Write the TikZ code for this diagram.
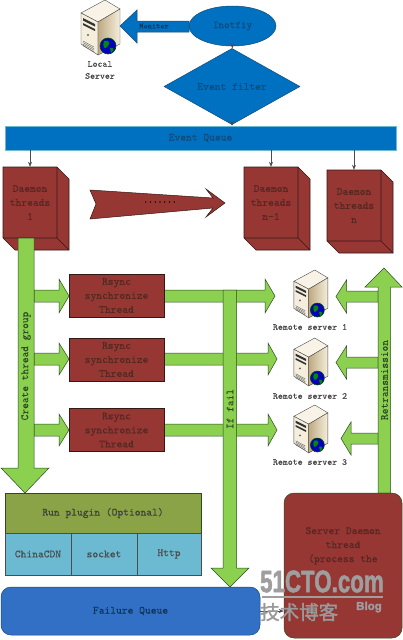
\documentclass[tikz,border=0pt]{standalone}
\usepackage{fontspec}
\setmonofont[FakeBold=0.25,AutoFakeBold=0.25]{Latin Modern Mono}
\newfontfamily\cjkf[AutoFakeBold=1.5]{Noto Sans CJK SC}
\newfontfamily\headf[FakeBold=2]{Liberation Sans}
\usetikzlibrary{shapes.geometric,arrows.meta}
\definecolor{qblue}{RGB}{0,112,192}
\definecolor{qtext}{RGB}{20,75,120}
\definecolor{brick}{RGB}{150,55,52}
\definecolor{bricktext}{RGB}{85,40,35}
\definecolor{lime}{RGB}{140,208,80}
\definecolor{limeedge}{RGB}{45,75,35}
\definecolor{olive}{RGB}{138,163,70}
\definecolor{cyanb}{RGB}{108,186,210}
\definecolor{failblue}{RGB}{50,112,198}
\definecolor{cream}{RGB}{245,238,220}
\definecolor{tan}{RGB}{190,170,130}
\tikzset{
  x=1pt,y=-1pt,
  every node/.style={font=\ttfamily,inner sep=0pt,align=center},
  blueshape/.style={fill=qblue,draw=qtext,line width=.5pt,text=qtext},
  brickbox/.style={fill=brick,draw=bricktext!60!black,line width=.6pt,text=bricktext,font=\ttfamily\fontsize{11}{14}\selectfont},
  limearrow/.style={fill=lime,draw=limeedge,line width=.5pt,line join=miter},
  thin link/.style={draw=black!70,line width=.6pt,-{Stealth[length=5pt,width=4pt]}},
  caption/.style={text=black!70,font=\ttfamily\fontsize{9.4}{12}\selectfont},
  limetext/.style={text=limeedge,rotate=90,font=\ttfamily\fontsize{11.1}{12}\selectfont},
  bodytext/.style={font=\ttfamily\fontsize{11}{14}\selectfont},
}
\newcommand{\servericon}[3]{%
  \begin{scope}[shift={(#1,#2)},scale=#3]
    \fill[draw=black!70,line width=.4pt,fill=cream!70!white] (1,13) -- (25,0) -- (40,9) -- (18,22) -- cycle;
    \fill[draw=black!70,line width=.4pt,fill=cream] (1,13) -- (18,22) -- (18,55) -- (1,44) -- cycle;
    \shade[left color=tan,right color=cream] (18,22) -- (40,9) -- (40,44) -- (18,55) -- cycle;
    \draw[black!70,line width=.4pt] (18,22) -- (40,9) -- (40,44) -- (18,55) -- cycle;
    \fill[black!80] (3,18) -- (15,24) -- (15,26.5) -- (3,20.5) -- cycle;
    \fill[black!80] (3,23) -- (15,29) -- (15,31) -- (3,25) -- cycle;
    \fill[black!60] (8,35) circle (1.2);
    \foreach \k in {0,1.6,3.2,4.8}
      \draw[black!60,line width=.4pt] (3,41+\k) -- (14,47+\k);
    \fill[blue!75!black,draw=black!70!green,line width=.6pt] (28,46) circle (8);
    \fill[green!55!black] (24,41) .. controls (29,39) and (31,44) .. (27,47) .. controls (25,50) and (22,47) .. (24,41);
    \fill[green!55!black] (30,48) .. controls (34,47) and (35,50) .. (31,53) -- cycle;
  \end{scope}}
\newcommand{\daemonbox}[4]{%
  \fill[brick,draw=bricktext!60!black,line width=.6pt] (#2,#3) -- (#2+54,#3) -- (#2+66,#3+12) -- (#2+66,#3+83) -- (#2+12,#3+83) -- (#2,#3+71) -- cycle;
  \draw[bricktext!60!black,line width=.6pt] (#2+54,#3) -- (#2+54,#3+71) -- (#2+66,#3+83) (#2+54,#3+71) -- (#2,#3+71);
  \node[text=bricktext,bodytext,minimum width=54pt,minimum height=71pt] (#1) at (#2+27,#3+35.5) {#4};
}
\newcommand{\blockarrow}[6]{%
  \fill[limearrow] (#1,#4) -- (#2,#4) -- (#2,#4-#6) -- (#3,{(#4+#5)/2}) -- (#2,#5+#6) -- (#2,#5) -- (#1,#5) -- cycle;}
\begin{document}
\begin{tikzpicture}
\useasboundingbox (0,0) rectangle (403,640);
\fill[white] (0,0) rectangle (403,640);

\servericon{80}{0}{1}
\node[caption] (local) at (100,70) {Local\\Server};
\node[ellipse,blueshape,minimum width=87pt,minimum height=40pt,font=\ttfamily\fontsize{10.7}{12}\selectfont] (ino) at (232.5,26) {Inotfiy};
\node[diamond,blueshape,minimum width=136pt,minimum height=44pt,font=\ttfamily\fontsize{11}{12}\selectfont] (filter) at (232,86.5) {Event filter};
\node[rectangle,draw=cyanb,line width=.5pt,fill=qblue,text=qtext,minimum width=391pt,minimum height=24pt,font=\ttfamily\fontsize{11}{12}\selectfont] (queue) at (200.5,138) {Event Queue};
\draw[thin link] (ino) -- (filter);
\draw[thin link] (filter) -- (filter|-queue.north);
\fill[blueshape] (120,26) -- (137,10) -- (137,21) -- (189,21) -- (189,32) -- (137,32) -- (137,43) -- cycle;
\node[text=qtext!70!black,font=\ttfamily\fontsize{7.9}{9}\selectfont] (monitor) at (154,26) {Monitor};

\daemonbox{d1}{3}{167}{Daemon\\threads\\1}
\daemonbox{d2}{244}{167}{Daemon\\threads\\n-1}
\daemonbox{d3}{327}{170}{Daemon\\threads\\n}
\coordinate (q1) at (30,150);
\coordinate (q2) at (271,150);
\coordinate (q3) at (354,150);
\draw[thin link] (q1) -- (d1.north-|q1);
\draw[thin link] (q2) -- (d2.north-|q2);
\draw[thin link] (q3) -- (d3.north-|q3);

\fill[brick,draw=bricktext!60!black,line width=.5pt] (90,190) -- (213,198) -- (206,189) -- (225,203) -- (206,217) -- (213,208) -- (90,219) -- (96,204) -- cycle;
\node[text=black,font=\ttfamily\bfseries\fontsize{9}{9}\selectfont] (dots) at (160,202) {.......};

\blockarrow{34}{59}{69}{290}{302}{11}
\blockarrow{34}{59}{69}{353}{365}{10}
\blockarrow{34}{59}{69}{424}{436}{10}
\blockarrow{164}{265}{275}{290}{302}{11}
\blockarrow{164}{268}{277}{353}{365}{10}
\blockarrow{164}{268}{277}{424}{436}{10}
\blockarrow{378}{346.5}{336}{291}{302}{11}
\blockarrow{378}{346.5}{336}{357}{368}{11}
\blockarrow{378}{351}{341}{433}{444}{11}

\node[rectangle,brickbox,minimum width=95pt,minimum height=43pt] (r1) at (116.5,295.5) {Rsync\\synchronize\\Thread};
\node[rectangle,brickbox,minimum width=95pt,minimum height=43pt] (r2) at (116.5,359.5) {Rsync\\synchronize\\Thread};
\node[rectangle,brickbox,minimum width=95pt,minimum height=43pt] (r3) at (116.5,430) {Rsync\\synchronize\\Thread};

\fill[limearrow] (18,238) -- (34,238) -- (34,468) -- (49,468) -- (25,493) -- (1,468) -- (18,468) -- cycle;
\node[limetext] (create) at (26,366) {Create thread group};
\fill[limearrow] (223,290) -- (236.5,290) -- (236.5,568) -- (249,568) -- (230,587) -- (211,568) -- (223,568) -- cycle;
\node[limetext] (iffail) at (230,409) {If fail};
\fill[limearrow] (378,493) -- (378,287) -- (365,287) -- (384,268) -- (402,287) -- (390.5,287) -- (390.5,493) -- cycle;
\node[limetext] (retrans) at (384.5,380) {Retransmission};

\servericon{293}{270}{.87}
\servericon{293}{338}{.87}
\servericon{293}{405}{.87}
\node[caption] (s1) at (310,327) {Remote server 1};
\node[caption] (s2) at (310,396) {Remote server 2};
\node[caption] (s3) at (310,462) {Remote server 3};

\node[rectangle,draw=limeedge,line width=.5pt,fill=olive,text=black!75,minimum width=196pt,minimum height=40pt,bodytext] (plugin) at (103,513) {Run plugin (Optional)};
\node[rectangle,draw=black!70,line width=.5pt,fill=cyanb,text=black!70,minimum width=66pt,minimum height=42pt,bodytext] (p1) at (38,554) {ChinaCDN};
\node[rectangle,draw=black!70,line width=.5pt,fill=cyanb,text=black!70,minimum width=66pt,minimum height=42pt,bodytext] (p2) at (104,554) {socket};
\node[rectangle,draw=black!70,line width=.5pt,fill=cyanb,text=black!70,minimum width=64pt,minimum height=42pt,bodytext] (p3) at (169,554) {Http};

\node[rectangle,rounded corners=10pt,fill=brick,draw=limeedge,line width=.5pt,minimum width=118pt,minimum height=145pt] (sd) at (343,565.5) {};
\node[text=bricktext,bodytext,anchor=north] (sdt) at (343,527) {Server Daemon\\thread\\(process the};

\node[rectangle,rounded corners=10pt,fill=failblue,draw=qtext,line width=.5pt,text=qtext!70!black,minimum width=259pt,minimum height=48pt,bodytext] (fail) at (130.5,611) {Failure Queue};
\draw[thin link] (fail.east) -- (fail.east-|sd.west);

\node[text=black!38,font=\headf\bfseries\fontsize{31}{31}\selectfont,anchor=west,xscale=.72] (wm) at (260,581.5) {51CTO.com};
\draw[draw=black!38,line width=1.6pt] (262,597) -- (383,597);
\node[text=black!40,font=\cjkf\bfseries\fontsize{19.5}{20}\selectfont,anchor=west] (wm2) at (260,612) {技术博客};
\node[text=black!38,font=\headf\bfseries\fontsize{11.5}{12}\selectfont] (wm3) at (369,607) {Blog};
\end{tikzpicture}
\end{document}
